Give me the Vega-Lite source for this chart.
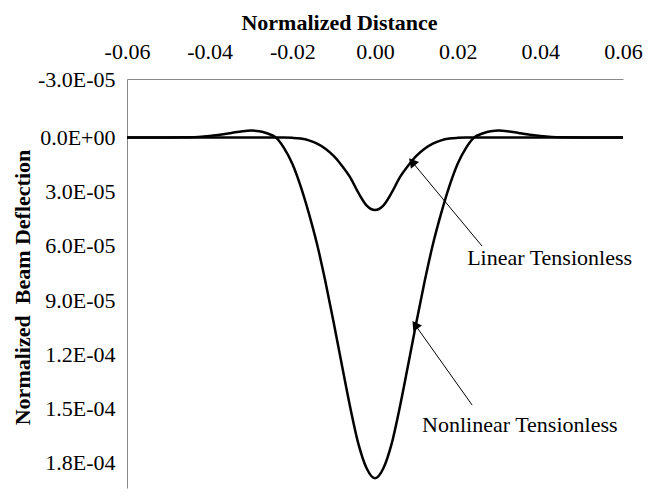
{
  "$schema": "https://vega.github.io/schema/vega-lite/v6.json",
  "width": 496,
  "height": 409,
  "autosize": {"type": "none"},
  "padding": {"left": 127, "top": 79, "right": 30, "bottom": 9},
  "background": "white",
  "config": {"view": {"stroke": null}, "font": "Liberation Serif"},
  "datasets": {
    "curves": [
      {"x": -0.06, "y": 0, "series": "Nonlinear"},
      {"x": -0.05, "y": 0, "series": "Nonlinear"},
      {"x": -0.045, "y": -0.0000001, "series": "Nonlinear"},
      {"x": -0.04, "y": -0.0000008, "series": "Nonlinear"},
      {"x": -0.035, "y": -0.0000022, "series": "Nonlinear"},
      {"x": -0.032, "y": -0.0000032, "series": "Nonlinear"},
      {"x": -0.03, "y": -0.0000035, "series": "Nonlinear"},
      {"x": -0.028, "y": -0.0000032, "series": "Nonlinear"},
      {"x": -0.026, "y": -0.000002, "series": "Nonlinear"},
      {"x": -0.024, "y": 0, "series": "Nonlinear"},
      {"x": -0.022, "y": 0.0000055, "series": "Nonlinear"},
      {"x": -0.02, "y": 0.0000135, "series": "Nonlinear"},
      {"x": -0.018, "y": 0.000025, "series": "Nonlinear"},
      {"x": -0.016, "y": 0.000039, "series": "Nonlinear"},
      {"x": -0.014, "y": 0.000055, "series": "Nonlinear"},
      {"x": -0.012, "y": 0.000074, "series": "Nonlinear"},
      {"x": -0.01, "y": 0.000095, "series": "Nonlinear"},
      {"x": -0.008, "y": 0.000117, "series": "Nonlinear"},
      {"x": -0.006, "y": 0.0001385, "series": "Nonlinear"},
      {"x": -0.004, "y": 0.0001575, "series": "Nonlinear"},
      {"x": -0.002, "y": 0.00017, "series": "Nonlinear"},
      {"x": 0, "y": 0.000175, "series": "Nonlinear"},
      {"x": 0.002, "y": 0.00017, "series": "Nonlinear"},
      {"x": 0.004, "y": 0.0001575, "series": "Nonlinear"},
      {"x": 0.006, "y": 0.0001385, "series": "Nonlinear"},
      {"x": 0.008, "y": 0.000117, "series": "Nonlinear"},
      {"x": 0.01, "y": 0.000095, "series": "Nonlinear"},
      {"x": 0.012, "y": 0.000074, "series": "Nonlinear"},
      {"x": 0.014, "y": 0.000055, "series": "Nonlinear"},
      {"x": 0.016, "y": 0.000039, "series": "Nonlinear"},
      {"x": 0.018, "y": 0.000025, "series": "Nonlinear"},
      {"x": 0.02, "y": 0.0000135, "series": "Nonlinear"},
      {"x": 0.022, "y": 0.0000055, "series": "Nonlinear"},
      {"x": 0.024, "y": 0, "series": "Nonlinear"},
      {"x": 0.026, "y": -0.000002, "series": "Nonlinear"},
      {"x": 0.028, "y": -0.0000032, "series": "Nonlinear"},
      {"x": 0.03, "y": -0.0000035, "series": "Nonlinear"},
      {"x": 0.032, "y": -0.0000032, "series": "Nonlinear"},
      {"x": 0.035, "y": -0.0000022, "series": "Nonlinear"},
      {"x": 0.04, "y": -0.0000008, "series": "Nonlinear"},
      {"x": 0.045, "y": -0.0000001, "series": "Nonlinear"},
      {"x": 0.05, "y": 0, "series": "Nonlinear"},
      {"x": 0.06, "y": 0, "series": "Nonlinear"},
      {"x": -0.06, "y": 0, "series": "Linear"},
      {"x": -0.03, "y": 0, "series": "Linear"},
      {"x": -0.022, "y": 0, "series": "Linear"},
      {"x": -0.02, "y": 0.0000002, "series": "Linear"},
      {"x": -0.018, "y": 0.0000006, "series": "Linear"},
      {"x": -0.016, "y": 0.0000015, "series": "Linear"},
      {"x": -0.014, "y": 0.0000032, "series": "Linear"},
      {"x": -0.012, "y": 0.0000058, "series": "Linear"},
      {"x": -0.01, "y": 0.0000095, "series": "Linear"},
      {"x": -0.008, "y": 0.0000145, "series": "Linear"},
      {"x": -0.006, "y": 0.0000205, "series": "Linear"},
      {"x": -0.004, "y": 0.0000285, "series": "Linear"},
      {"x": -0.002, "y": 0.000035, "series": "Linear"},
      {"x": 0, "y": 0.0000373, "series": "Linear"},
      {"x": 0.002, "y": 0.000035, "series": "Linear"},
      {"x": 0.004, "y": 0.0000285, "series": "Linear"},
      {"x": 0.006, "y": 0.0000205, "series": "Linear"},
      {"x": 0.008, "y": 0.0000145, "series": "Linear"},
      {"x": 0.01, "y": 0.0000095, "series": "Linear"},
      {"x": 0.012, "y": 0.0000058, "series": "Linear"},
      {"x": 0.014, "y": 0.0000032, "series": "Linear"},
      {"x": 0.016, "y": 0.0000015, "series": "Linear"},
      {"x": 0.018, "y": 0.0000006, "series": "Linear"},
      {"x": 0.02, "y": 0.0000002, "series": "Linear"},
      {"x": 0.022, "y": 0, "series": "Linear"},
      {"x": 0.03, "y": 0, "series": "Linear"},
      {"x": 0.06, "y": 0, "series": "Linear"}
    ],
    "arrows": [
      {"series": "Linear", "x": 0.0092, "y": 0.0000131, "x2": 0.0259, "y2": 0.0000558},
      {"series": "Nonlinear", "x": 0.0099, "y": 0.0000968, "x2": 0.0235, "y2": 0.0001374}
    ],
    "labels": [
      {"x": 0.0223, "y": 0.0000619, "text": "Linear Tensionless"},
      {"x": 0.0114, "y": 0.0001477, "text": "Nonlinear Tensionless"}
    ]
  },
  "layer": [
    {
      "data": {"name": "curves"},
      "mark": {"type": "line", "color": "black", "strokeWidth": 2.5, "interpolate": "monotone"},
      "encoding": {
        "x": {
          "field": "x", "type": "quantitative",
          "scale": {"domain": [-0.06, 0.06], "nice": false, "zero": false},
          "axis": {
            "orient": "top", "title": "Normalized Distance",
            "values": [-0.06, -0.04, -0.02, 0, 0.02, 0.04, 0.06],
            "labelExpr": "replace(format(datum.value, '.2f'), '\u2212', '-')",
            "labelFont": "Liberation Serif", "labelFontSize": 22, "labelColor": "black",
            "labelPadding": 16, "labelFlush": false,
            "ticks": false, "grid": false,
            "domainColor": "#888888", "domainWidth": 1,
            "titleFont": "Liberation Serif", "titleFontSize": 22, "titleFontWeight": "bold",
            "titleColor": "black", "titleX": 212, "titleY": -57, "titleBaseline": "middle", "titleAnchor": "middle"
          }
        },
        "y": {
          "field": "y", "type": "quantitative",
          "scale": {"domain": [-0.00003, 0.00018], "nice": false, "zero": false, "reverse": true},
          "axis": {
            "title": "Normalized\u00a0 Beam Deflection",
            "values": [-0.00003, 0, 0.00003, 0.00006, 0.00009, 0.00012, 0.00015, 0.00018],
            "labelExpr": "replace(replace(replace(format(datum.value, '.1e'), '\u2212', '-'), 'e-', 'E-0'), 'e+', 'E+0')",
            "labelFont": "Liberation Serif", "labelFontSize": 22, "labelColor": "black",
            "labelPadding": 12, "labelFlush": false,
            "labelOffset": {"expr": "-max(datum.value, 0) * 139000"},
            "ticks": false, "grid": false,
            "domainColor": "#888888", "domainWidth": 1,
            "titleFont": "Liberation Serif", "titleFontSize": 22, "titleFontWeight": "bold",
            "titleColor": "black", "titleX": -105, "titleY": 208, "titleBaseline": "middle", "titleAngle": 270
          }
        },
        "detail": {"field": "series"}
      }
    },
    {
      "data": {"name": "arrows"},
      "mark": {"type": "rule", "color": "black", "strokeWidth": 1},
      "encoding": {
        "x": {"field": "x", "type": "quantitative"},
        "y": {"field": "y", "type": "quantitative"},
        "x2": {"field": "x2"},
        "y2": {"field": "y2"}
      }
    },
    {
      "data": {"name": "arrows"},
      "transform": [{"filter": "datum.series == 'Linear'"}],
      "mark": {"type": "point", "shape": "triangle", "filled": true, "color": "black", "size": 110, "angle": 320, "opacity": 1},
      "encoding": {
        "x": {"field": "x", "type": "quantitative"},
        "y": {"field": "y", "type": "quantitative"}
      }
    },
    {
      "data": {"name": "arrows"},
      "transform": [{"filter": "datum.series == 'Nonlinear'"}],
      "mark": {"type": "point", "shape": "triangle", "filled": true, "color": "black", "size": 110, "angle": 325, "opacity": 1},
      "encoding": {
        "x": {"field": "x", "type": "quantitative"},
        "y": {"field": "y", "type": "quantitative"}
      }
    },
    {
      "data": {"name": "labels"},
      "mark": {"type": "text", "align": "left", "baseline": "middle", "font": "Liberation Serif", "fontSize": 22, "color": "black"},
      "encoding": {
        "x": {"field": "x", "type": "quantitative"},
        "y": {"field": "y", "type": "quantitative"},
        "text": {"field": "text"}
      }
    }
  ]
}
